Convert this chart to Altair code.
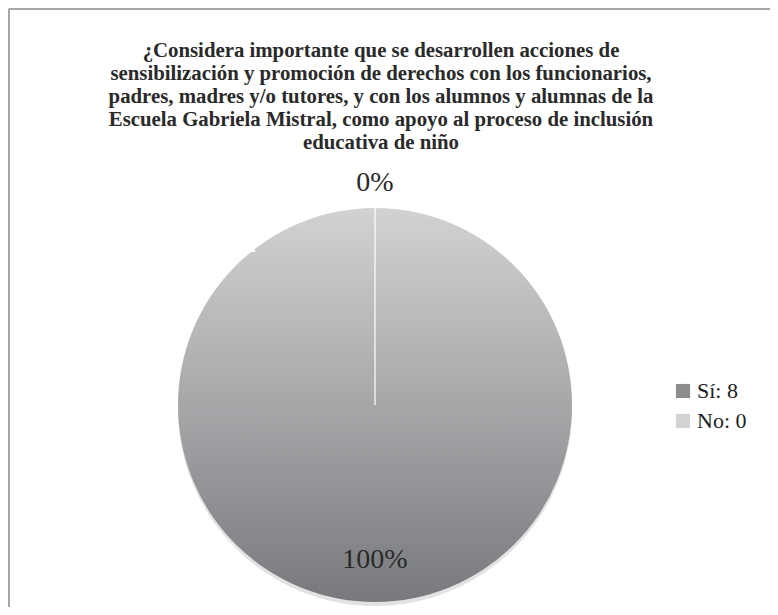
import altair as alt
import pandas as pd

categories = ["Sí", "No"]
counts = [8, 0]
percent_labels = ["100%", "0%"]
title_lines = [
    "¿Considera importante que se desarrollen acciones de",
    "sensibilización y promoción de derechos con los funcionarios,",
    "padres, madres y/o tutores, y con los alumnos y alumnas de la",
    "Escuela Gabriela Mistral, como apoyo al proceso de inclusión",
    "educativa de niño",
]

df = pd.DataFrame({
    "cat": categories,
    "count": counts,
    "pct": percent_labels,
    "legend": [f"{c}: {n}" for c, n in zip(categories, counts)],
})

W, H = 762, 599
CX, CY, R = 367, 397, 197
SERIF = "Liberation Serif"

base = alt.Chart(df).encode(
    theta=alt.Theta("count:Q", stack=True),
    order=alt.Order("order_idx:Q"),
).transform_calculate(order_idx="datum.cat == 'Sí' ? 0 : 1")

legend_layer = base.mark_arc(outerRadius=R - 2).encode(
    x=alt.value(CX), y=alt.value(CY),
    color=alt.Color(
        "legend:N",
        sort=[f"{c}: {n}" for c, n in zip(categories, counts)],
        scale=alt.Scale(range=["#8c8d8f", "#d3d3d5"]),
        legend=alt.Legend(
            title=None, orient="none", legendX=664, legendY=372,
            symbolType="square", symbolSize=200, symbolStrokeWidth=0,
            labelFont=SERIF, labelFontSize=22, labelColor="#1e1e1e",
            rowPadding=8, labelOffset=3,
        ),
    ),
)

shadow = base.transform_filter("datum.cat == 'Sí'").mark_arc(
    outerRadius=R, fill="#e2e2e2"
).encode(x=alt.value(CX), y=alt.value(CY + 4))

grad = {
    "gradient": "linear", "x1": 0, "y1": 0, "x2": 0, "y2": 1,
    "stops": [
        {"offset": 0, "color": "#d2d2d4"},
        {"offset": 0.5, "color": "#a6a7a9"},
        {"offset": 1, "color": "#78797c"},
    ],
}
gradient_layer = base.transform_filter("datum.cat == 'Sí'").mark_arc(
    outerRadius=R, fill=grad
).encode(x=alt.value(CX), y=alt.value(CY))

zero_line = base.mark_arc(
    outerRadius=R, fillOpacity=0, stroke="#ffffff", strokeWidth=1.2
).transform_filter("datum.cat == 'No'").encode(x=alt.value(CX), y=alt.value(CY))

lab_si = base.transform_filter("datum.cat == 'Sí'").mark_text(
    radius=155, font=SERIF, fontSize=28, color="#2a2a2a", baseline="middle"
).encode(x=alt.value(CX), y=alt.value(CY), text="pct:N")

lab_no = base.transform_filter("datum.cat == 'No'").mark_text(
    radius=222, font=SERIF, fontSize=28, color="#2a2a2a", baseline="middle"
).encode(x=alt.value(CX), y=alt.value(CY), text="pct:N")

title = alt.Chart(pd.DataFrame({"t": [title_lines]})).mark_text(
    font=SERIF, fontWeight="bold", fontSize=20.8, lineHeight=23,
    color="#2a2a2a", align="center", baseline="top",
).encode(x=alt.value(W / 2 - 8), y=alt.value(33), text="t")

border = alt.Chart(pd.DataFrame({"a": [0]})).mark_rule(
    color="#a6a6a6", strokeWidth=2
)
border_left = border.encode(x=alt.value(1), y=alt.value(1), y2=alt.value(H))
border_top = border.encode(x=alt.value(1), x2=alt.value(W), y=alt.value(1))

chart = alt.layer(
    border_left, border_top, legend_layer, shadow, gradient_layer,
    zero_line, lab_si, lab_no, title
).properties(
    width=W, height=H, autosize=alt.AutoSizeParams(type="none"), padding=0
).configure_view(stroke=None).configure(background="white")

chart.save("out.html", embed_options={"renderer": "svg", "actions": False})
